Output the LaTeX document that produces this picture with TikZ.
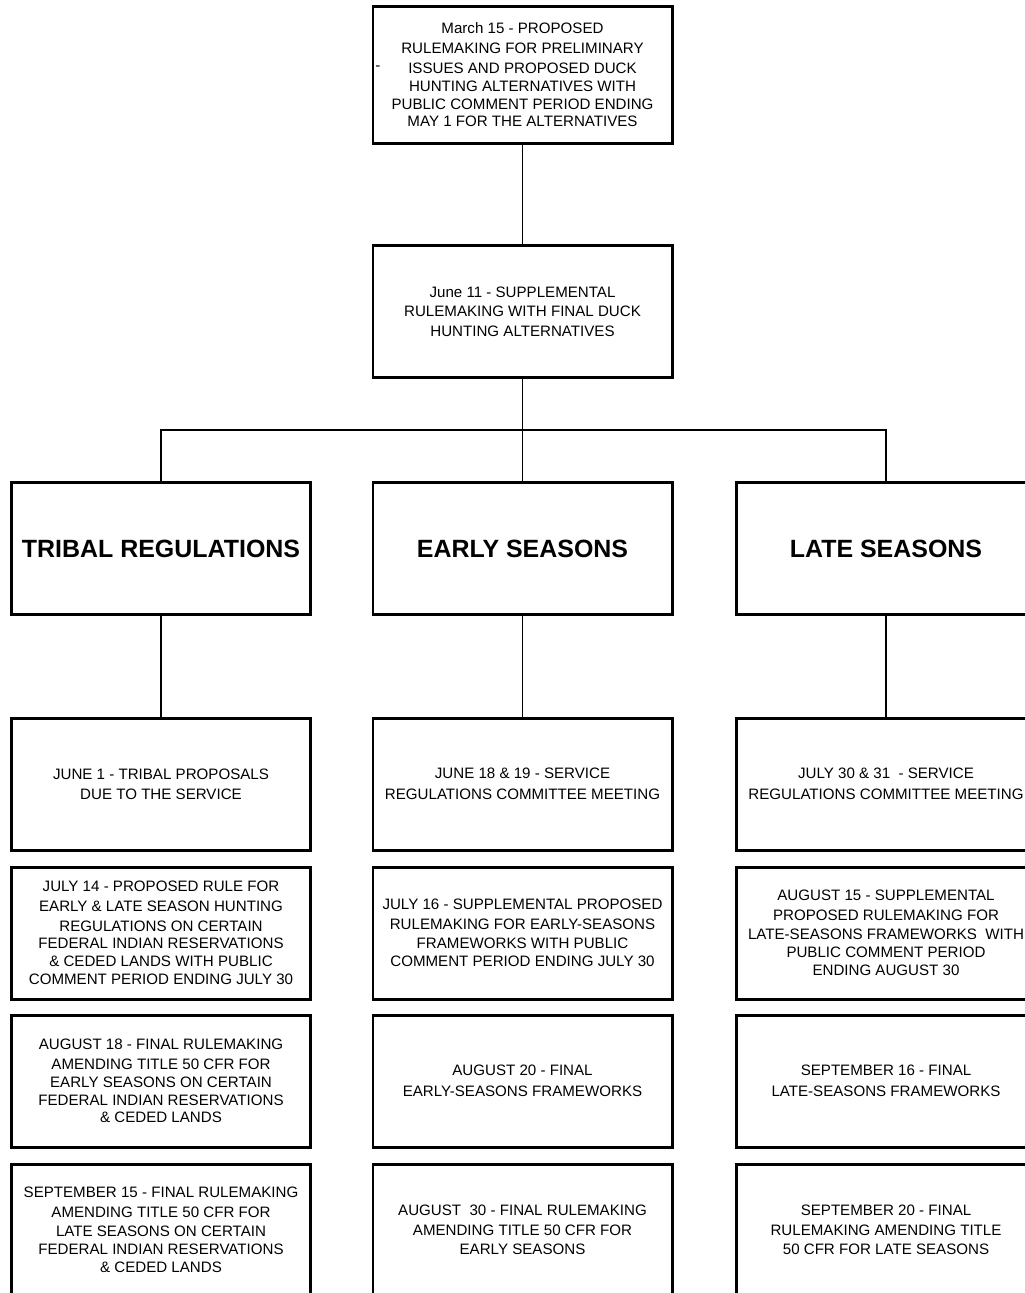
\documentclass[tikz,border=0pt]{standalone}
\usepackage{fontspec}
\setmainfont{Liberation Sans}
\usetikzlibrary{positioning}

\tikzset{
	stagebox/.style={draw, line width=1.7pt, align=center,
		minimum width=5.98cm, minimum height=2.64cm, inner sep=2pt,
		font=\fontsize{8.6}{10.2}\selectfont},
	headbox/.style={stagebox, font=\fontsize{14.2}{16}\selectfont\bfseries},
	link/.style={line width=0.8pt},
}

\begin{document}
\begin{tikzpicture}
\useasboundingbox (0,0) rectangle (20.5,-25.86);

%Proposed rulemaking
\node [stagebox, minimum height=2.74cm] (march) at (10.45,-1.5) {March 15 - PROPOSED\\[1pt]
	RULEMAKING FOR PRELIMINARY\\[1pt]
	ISSUES AND PROPOSED DUCK\\
	HUNTING ALTERNATIVES WITH\\
	PUBLIC COMMENT PERIOD ENDING\\
	MAY 1 FOR THE ALTERNATIVES};
\node [font=\fontsize{8.6}{10}\selectfont] (dash) at (7.56,-1.36) {-};

%Supplemental rulemaking
\node [stagebox] (june) at (10.45,-6.23) {June 11 - SUPPLEMENTAL\\[1pt]
	RULEMAKING WITH FINAL DUCK\\[1pt]
	HUNTING ALTERNATIVES};

%Headings
\node [headbox] (tribal) at (3.22,-10.97) {TRIBAL REGULATIONS};
\node [headbox] (early) at (10.45,-10.97) {EARLY SEASONS};
\node [headbox] (late) at (17.72,-10.97) {LATE SEASONS};

\draw [link] (march.south)--(june.south |- june.north);
\draw [link] (june.south)--(early.north);
\coordinate (bus) at (10.45,-8.6);
\draw [link] (tribal.north) |- (bus) -| (late.north);

%Tribal regulations
\node [stagebox] (tribalA) at (3.22,-15.68) {JUNE 1 - TRIBAL PROPOSALS\\[1pt]
	DUE TO THE SERVICE};
\node [stagebox] (tribalB) at (3.22,-18.66) {JULY 14 - PROPOSED RULE FOR\\[1pt]
	EARLY \& LATE SEASON HUNTING\\[1pt]
	REGULATIONS ON CERTAIN\\
	FEDERAL INDIAN RESERVATIONS\\
	\& CEDED LANDS WITH PUBLIC\\
	COMMENT PERIOD ENDING JULY 30};
\node [stagebox] (tribalC) at (3.22,-21.62) {AUGUST 18 - FINAL RULEMAKING\\[1pt]
	AMENDING TITLE 50 CFR FOR\\
	EARLY SEASONS ON CERTAIN\\
	FEDERAL INDIAN RESERVATIONS\\
	\& CEDED LANDS};
\node [stagebox] (tribalD) at (3.22,-24.6) {SEPTEMBER 15 - FINAL RULEMAKING\\[1pt]
	AMENDING TITLE 50 CFR FOR\\[1pt]
	LATE SEASONS ON CERTAIN\\
	FEDERAL INDIAN RESERVATIONS\\
	\& CEDED LANDS};

%Early seasons
\node [stagebox] (earlyA) at (10.45,-15.68) {JUNE 18 \& 19 - SERVICE\\[2pt]
	REGULATIONS COMMITTEE MEETING};
\node [stagebox] (earlyB) at (10.45,-18.66) {JULY 16 - SUPPLEMENTAL PROPOSED\\[1pt]
	RULEMAKING FOR EARLY-SEASONS\\[1pt]
	FRAMEWORKS WITH PUBLIC\\
	COMMENT PERIOD ENDING JULY 30};
\node [stagebox] (earlyC) at (10.45,-21.62) {AUGUST 20 - FINAL\\[2pt]
	EARLY-SEASONS FRAMEWORKS};
\node [stagebox] (earlyD) at (10.45,-24.6) {AUGUST\ \ 30 - FINAL RULEMAKING\\[1pt]
	AMENDING TITLE 50 CFR FOR\\[1pt]
	EARLY SEASONS};

%Late seasons
\node [stagebox] (lateA) at (17.72,-15.68) {JULY 30 \& 31\ \ - SERVICE\\[2pt]
	REGULATIONS COMMITTEE MEETING};
\node [stagebox] (lateB) at (17.72,-18.66) {AUGUST 15 - SUPPLEMENTAL\\[1pt]
	PROPOSED RULEMAKING FOR\\[1pt]
	LATE-SEASONS FRAMEWORKS\ \ WITH\\
	PUBLIC COMMENT PERIOD\\
	ENDING AUGUST 30};
\node [stagebox] (lateC) at (17.72,-21.62) {SEPTEMBER 16 - FINAL\\[2pt]
	LATE-SEASONS FRAMEWORKS};
\node [stagebox] (lateD) at (17.72,-24.6) {SEPTEMBER 20 - FINAL\\[1pt]
	RULEMAKING AMENDING TITLE\\[1pt]
	50 CFR FOR LATE SEASONS};

\draw [link] (tribal.south)--(tribalA.north);
\draw [link] (early.south)--(earlyA.north);
\draw [link] (late.south)--(lateA.north);

\end{tikzpicture}
\end{document}
